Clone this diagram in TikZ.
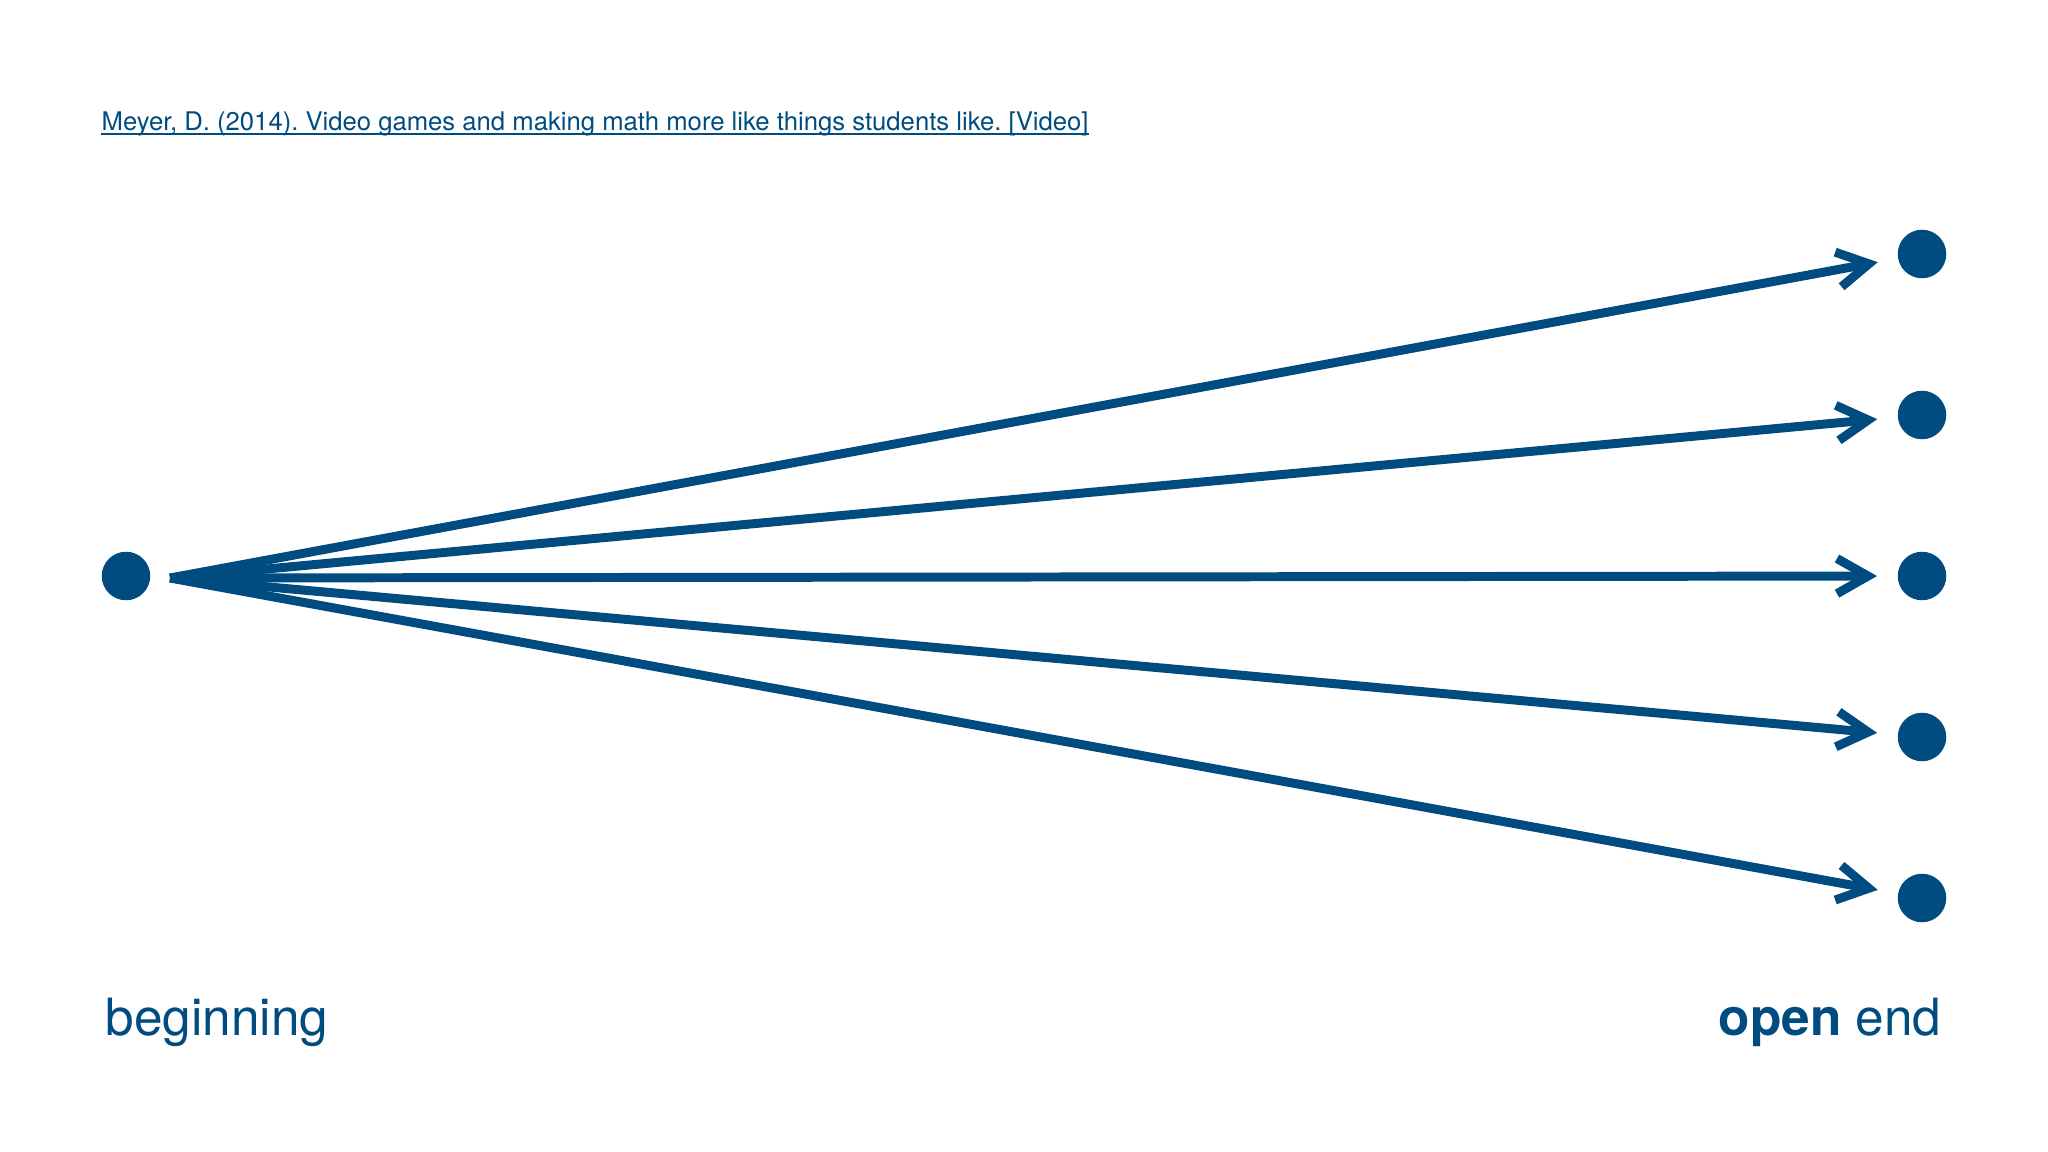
\documentclass[tikz,border=0pt]{standalone}
\usepackage{fontspec}
\setmainfont{TeX Gyre Heros}
\usetikzlibrary{arrows.meta}
\definecolor{slideblue}{RGB}{0,76,128}
\frenchspacing
\tikzset{
  dot/.style={circle, fill=slideblue, inner sep=0pt, minimum size=13.8pt},
  path arrow/.style={draw=slideblue, line width=2.55pt, -{Straight Barb[length=8.8pt,width=10pt]}, shorten >=5.7pt},
  big label/.style={text=slideblue, inner sep=0pt, font=\fontsize{14.6pt}{17pt}\selectfont},
}
\begin{document}
\begin{tikzpicture}[x=0.01cm, y=-0.01cm]
    \useasboundingbox (0,0) rectangle (2048,1152);

    % Reference line
    \node[text=slideblue, inner sep=0pt, anchor=base west, font=\fontsize{7.3pt}{9pt}\selectfont] (cite) at (101,131)
        {Meyer, D. (2014). Video games and making math more like things students like. [Video]};
    \draw[slideblue, line width=0.55pt] ([yshift=-0.85pt]cite.base west) -- ([yshift=-0.85pt]cite.base east);

    % Beginning
    \node[dot] (start) at (126,576) {};
    \coordinate (fan) at (170,578);

    % Open ends
    \node[dot] (end1) at (1922,254) {};
    \node[dot] (end2) at (1922,415) {};
    \node[dot] (end3) at (1922,576) {};
    \node[dot] (end4) at (1922,737) {};
    \node[dot] (end5) at (1922,898) {};

    % Paths
    \draw[path arrow] (fan) -- (end1);
    \draw[path arrow] (fan) -- (end2);
    \draw[path arrow] (fan) -- (end3);
    \draw[path arrow] (fan) -- (end4);
    \draw[path arrow] (fan) -- (end5);

    % Labels
    \node[big label, anchor=base west] (begin) at (105,1035) {beginning};
    \node[big label, anchor=base east] (open) at (1942,1035) {\textbf{open} end};
\end{tikzpicture}
\end{document}
